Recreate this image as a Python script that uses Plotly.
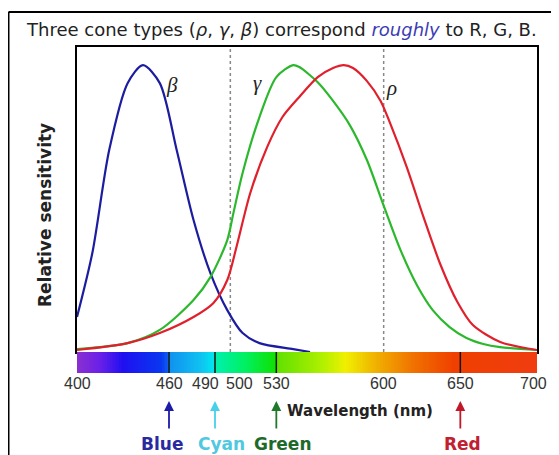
import numpy as np
import plotly.graph_objects as go

# ---------------- data ----------------
beta_wavelength = [400, 410, 421, 433, 443, 454, 465, 476, 487, 498, 508, 519, 541, 552]
beta_sensitivity = [0.122, 0.345, 0.704, 0.937, 1.0, 0.937, 0.704, 0.460, 0.275, 0.146, 0.066, 0.031, 0.010, 0.0]

gamma_wavelength = [400, 433, 454, 476, 487, 498, 502, 508, 519, 530, 541, 545, 557, 567, 578,
                    589, 600, 611, 622, 632, 643, 654, 665, 676, 700]
gamma_sensitivity = [0.010, 0.031, 0.077, 0.181, 0.261, 0.390, 0.484, 0.624, 0.819, 0.958, 1.0, 0.993,
                     0.940, 0.875, 0.790, 0.670, 0.510, 0.355, 0.230, 0.146, 0.087, 0.049, 0.028, 0.017, 0.007]

rho_wavelength = [400, 433, 454, 476, 489, 498, 504, 513, 524, 534, 545, 557, 567, 574, 580,
                  589, 598, 604, 615, 626, 637, 648, 658, 676, 700]
rho_sensitivity = [0.007, 0.031, 0.066, 0.122, 0.171, 0.251, 0.366, 0.554, 0.714, 0.819, 0.889, 0.958,
                   0.99, 1.0, 0.99, 0.945, 0.875, 0.800, 0.645, 0.470, 0.305, 0.175, 0.095, 0.035, 0.007]

tick_values = [400, 460, 490, 500, 530, 600, 650, 700]
tick_labels = ["400", "460", "490", "500", "530", "600", "650", "700"]
dotted_wavelengths = [500, 600]
marked_wavelengths = [460, 490, 530, 650]
marked_names = ["Blue", "Cyan", "Green", "Red"]

# spectrum strip
spectrum_wavelengths = np.arange(400, 701)

# ---------------- styling ----------------
PAGE_MARGIN = 8                       # browser body margin
W, H = 559 - PAGE_MARGIN, 455 - PAGE_MARGIN
FONT = "Liberation Sans, Arial, Helvetica, sans-serif"
WIDE = "DejaVu Sans, Verdana, sans-serif"
curve_colors = {"beta": "#1c1ca0", "gamma": "#2cb82c", "rho": "#e0202c"}
arrow_colors = ["#1c1ca8", "#48d0e8", "#1e7a2a", "#c01828"]
name_colors = ["#2a2aa0", "#50c8e0", "#1e6a2a", "#c02030"]
name_shift = [-7, 6, 7, 2]
tick_shift = {"490": -10, "500": 9, "700": -4}


def px_x(p):
    return (p - PAGE_MARGIN) / W


def px_y(p):
    return 1 - (p - PAGE_MARGIN) / H


spectrum_scale = [
    [0.000, "#8a30d0"],
    [0.050, "#6a20e8"],
    [0.100, "#2010f0"],
    [0.183, "#0838f0"],
    [0.199, "#1060f0"],
    [0.200, "#1090f0"],
    [0.267, "#10c0f0"],
    [0.299, "#00e8f0"],
    [0.300, "#00f0b0"],
    [0.367, "#00f060"],
    [0.432, "#10e000"],
    [0.434, "#60e000"],
    [0.533, "#b0f000"],
    [0.583, "#f0f000"],
    [0.650, "#f0b000"],
    [0.733, "#f07000"],
    [0.817, "#f04000"],
    [1.000, "#f03c10"],
]

fig = go.Figure()

for wl, val, key in [(beta_wavelength, beta_sensitivity, "beta"),
                     (gamma_wavelength, gamma_sensitivity, "gamma"),
                     (rho_wavelength, rho_sensitivity, "rho")]:
    fig.add_trace(go.Scatter(x=wl, y=val, mode="lines",
                             line=dict(color=curve_colors[key], width=2.2, shape="spline", smoothing=0.8),
                             xaxis="x", yaxis="y", showlegend=False, hoverinfo="skip"))

fig.add_trace(go.Heatmap(x=spectrum_wavelengths, y=[0], z=[spectrum_wavelengths],
                         colorscale=spectrum_scale, zmin=400, zmax=700, showscale=False,
                         xaxis="x2", yaxis="y2", hoverinfo="skip"))

shapes = []
for wl in dotted_wavelengths:
    shapes.append(dict(type="line", xref="x", yref="y domain", x0=wl, x1=wl, y0=0, y1=1,
                       line=dict(color="#888888", width=1.5, dash="dot"), layer="below"))
for wl in marked_wavelengths:
    shapes.append(dict(type="line", xref="x2", yref="y2 domain", x0=wl, x1=wl, y0=0, y1=1,
                       line=dict(color="#111111", width=1.5)))
# outer frame (top and left edges)
shapes.append(dict(type="line", xref="paper", yref="paper", x0=px_x(8.5), x1=1.0, y0=px_y(12), y1=px_y(12),
                   line=dict(color="black", width=2)))
shapes.append(dict(type="line", xref="paper", yref="paper", x0=px_x(8.5), x1=px_x(8.5), y0=px_y(12), y1=0,
                   line=dict(color="black", width=2)))

CENTER = dict(xanchor="center", yanchor="middle")
annotations = []
# title
annotations.append(dict(xref="paper", yref="paper", x=px_x(281), y=px_y(29), showarrow=False, **CENTER,
                        text="Three cone types (<i>ρ</i>, <i>γ</i>, <i>β</i>) correspond "
                             "<i><span style='color:#3c3cb4'>roughly</span></i> to R, G, B.",
                        font=dict(family=WIDE, size=18, color="#222222")))
# y title
annotations.append(dict(xref="paper", yref="paper", x=px_x(45), y=px_y(215), showarrow=False, **CENTER,
                        text="<b>Relative sensitivity</b>", textangle=-90,
                        font=dict(family=WIDE, size=17, color="#222222")))
# tick labels under the spectrum strip
for v, t in zip(tick_values, tick_labels):
    annotations.append(dict(xref="x2", yref="paper", x=v, y=px_y(383), showarrow=False, **CENTER,
                            xshift=tick_shift.get(t, 0), text=t,
                            font=dict(family=FONT, size=16, color="#333333")))
# greek curve labels
for txt, x, y in [("β", 172, 85), ("γ", 257, 83), ("ρ", 391, 88)]:
    annotations.append(dict(xref="paper", yref="paper", x=px_x(x), y=px_y(y), showarrow=False, **CENTER,
                            text="<i>%s</i>" % txt,
                            font=dict(family="Liberation Serif, Times New Roman, serif", size=21,
                                      color="#222222")))
# arrows and colour names
for wl, name, ac, nc, sh in zip(marked_wavelengths, marked_names, arrow_colors, name_colors, name_shift):
    annotations.append(dict(xref="x2", yref="paper", x=wl, y=px_y(401), ax=0, ay=29, text="",
                            showarrow=True, arrowhead=2, arrowsize=1.1, arrowwidth=1.8,
                            arrowcolor=ac, standoff=0))
    annotations.append(dict(xref="x2", yref="paper", x=wl, y=px_y(444), xshift=sh, showarrow=False,
                            **CENTER, text="<b>%s</b>" % name, font=dict(family=WIDE, size=17, color=nc)))
annotations.append(dict(xref="paper", yref="paper", x=px_x(360), y=px_y(411), showarrow=False, **CENTER,
                        text="<b>Wavelength (nm)</b>", font=dict(family=WIDE, size=15, color="#222222")))

fig.update_layout(
    width=W, height=H,
    margin=dict(l=0, r=0, t=0, b=0, autoexpand=False),
    paper_bgcolor="white", plot_bgcolor="white",
    showlegend=False,
    xaxis=dict(domain=[px_x(77), px_x(537)], range=[400, 700], anchor="y", automargin=False,
               showticklabels=False, ticks="", showgrid=False, zeroline=False,
               showline=True, mirror=True, linecolor="black", linewidth=2),
    yaxis=dict(domain=[px_y(352), px_y(47)], range=[0, 1.063], anchor="x", automargin=False,
               showticklabels=False, ticks="", showgrid=False, zeroline=False,
               showline=True, mirror=True, linecolor="black", linewidth=2),
    xaxis2=dict(domain=[px_x(77), px_x(537)], range=[400, 700], anchor="y2", matches="x",
                automargin=False, showticklabels=False, ticks="", showgrid=False, zeroline=False,
                showline=False),
    yaxis2=dict(domain=[px_y(373), px_y(352)], range=[-0.5, 0.5], anchor="x2", automargin=False,
                showticklabels=False, ticks="", showgrid=False, zeroline=False, showline=False),
    shapes=shapes,
    annotations=annotations,
)

fig.write_html("out.html")
